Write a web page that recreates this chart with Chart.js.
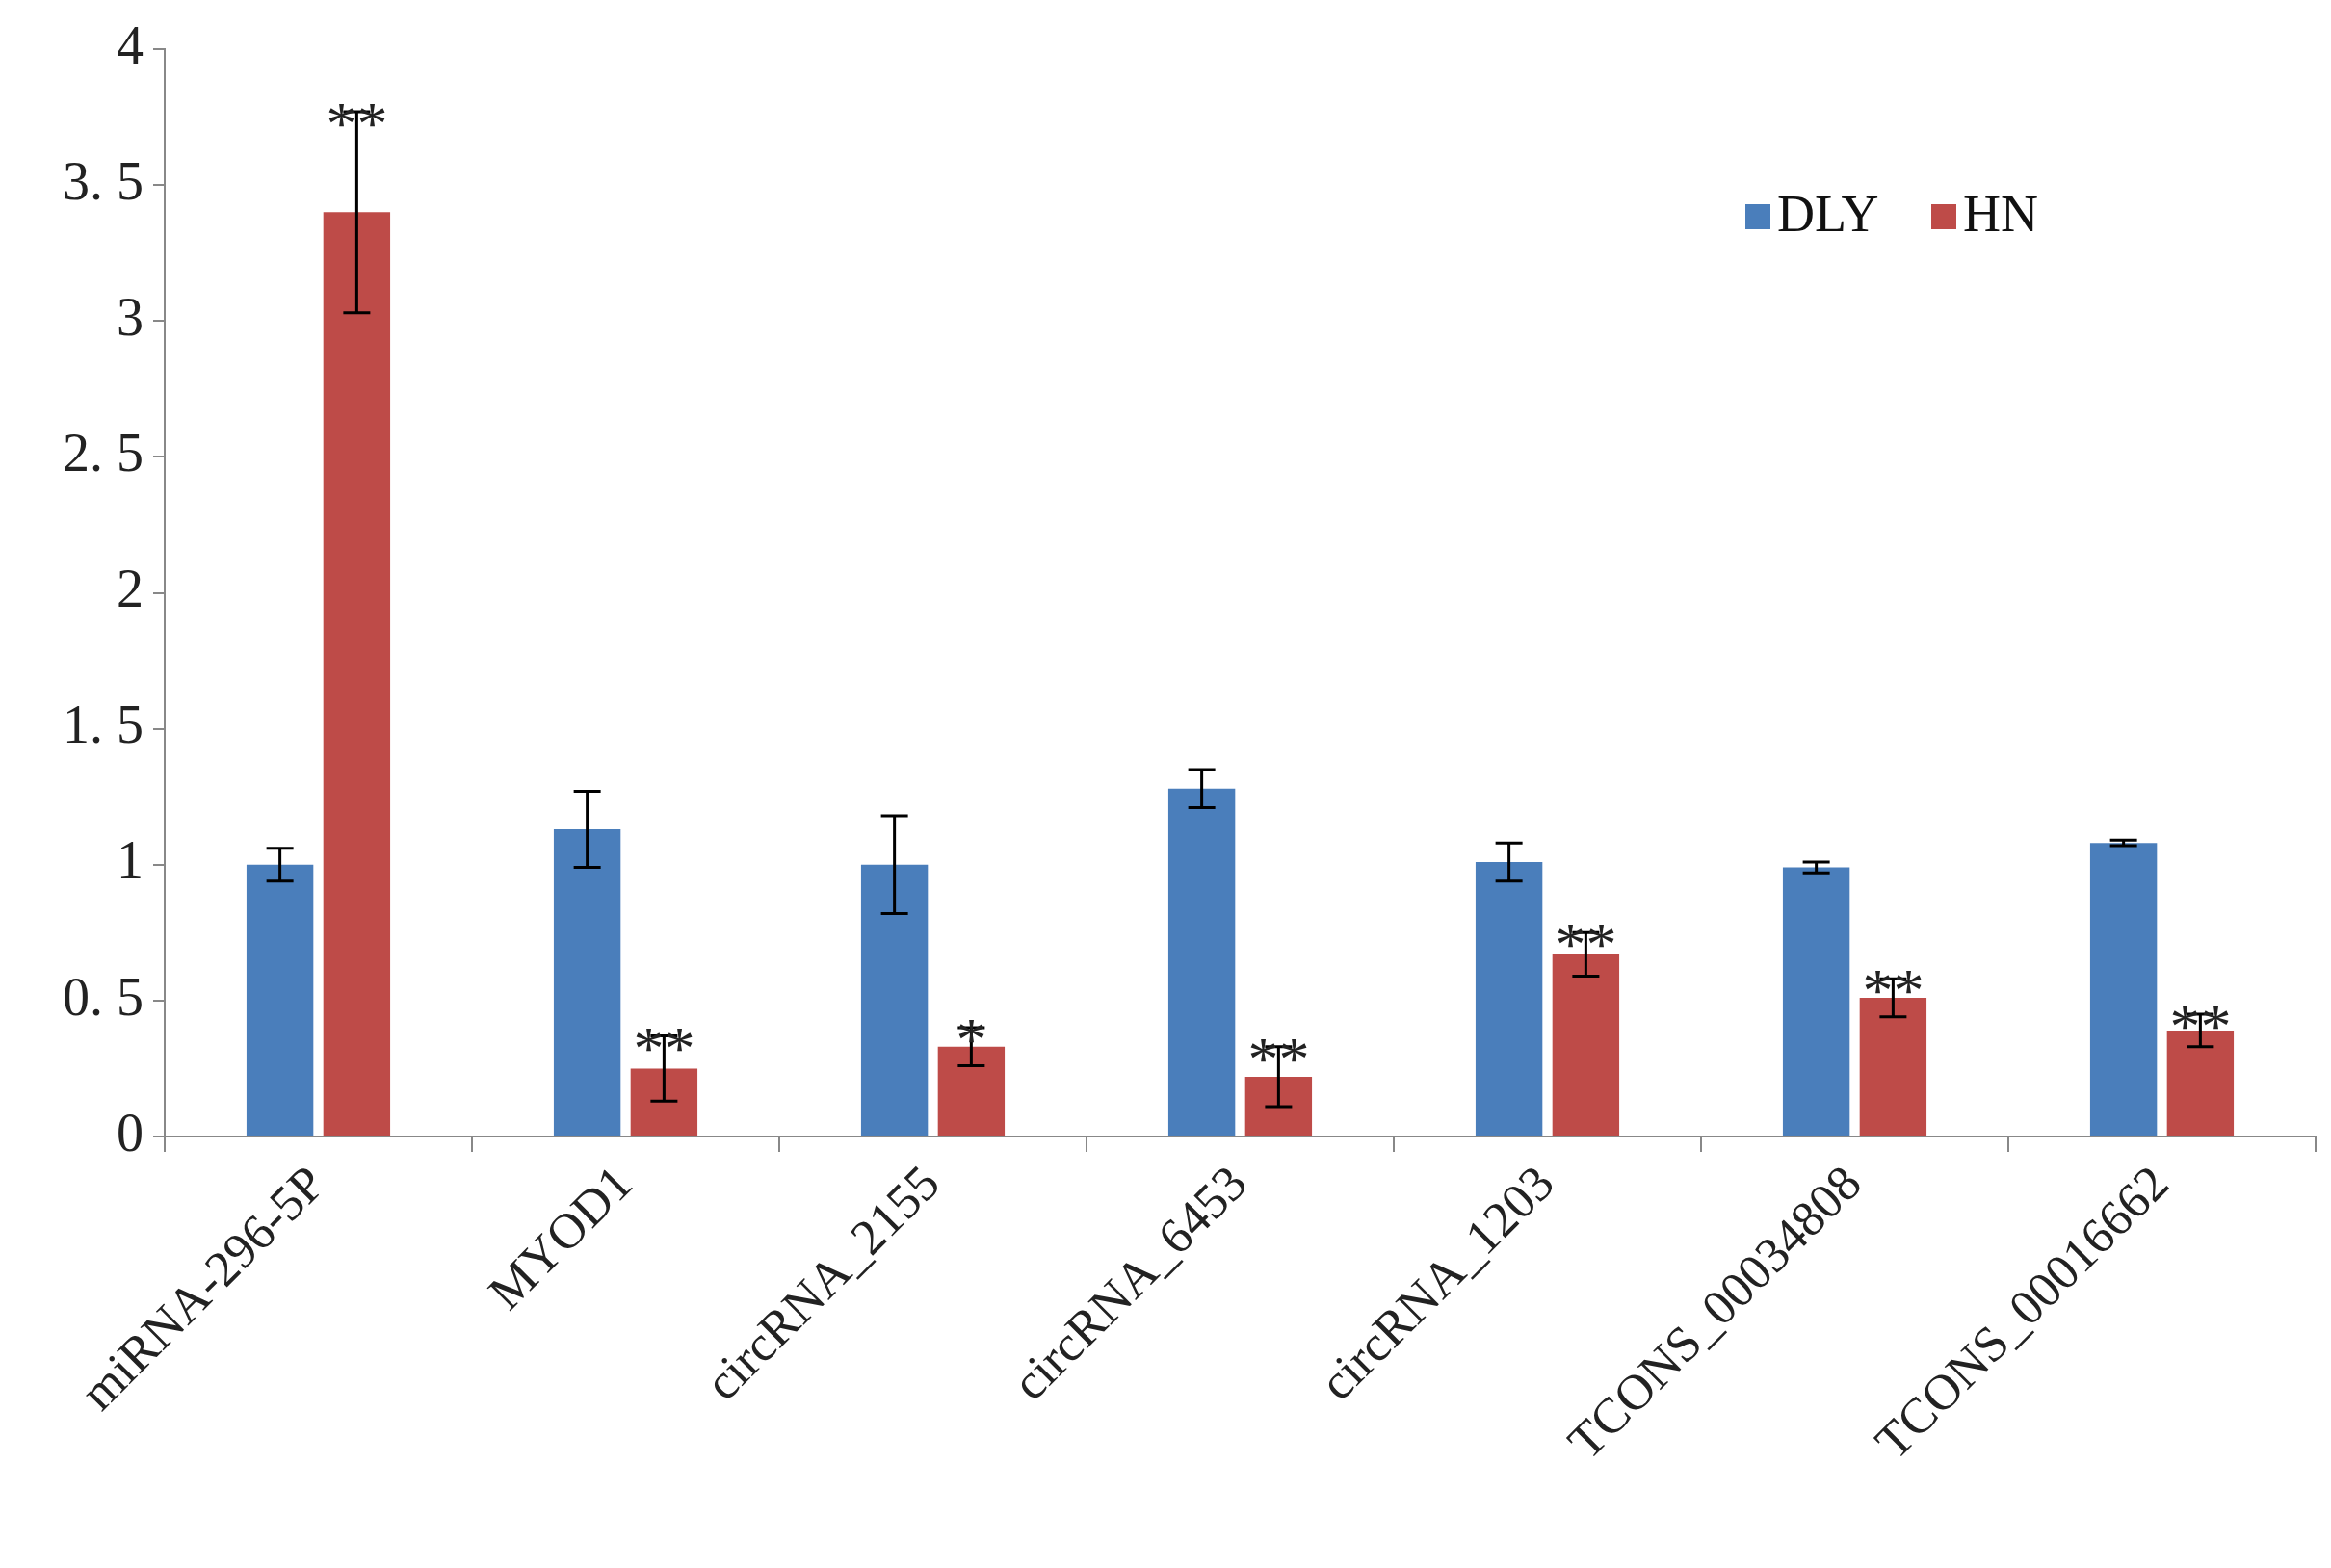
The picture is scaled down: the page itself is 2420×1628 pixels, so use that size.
<!DOCTYPE html>
<html><head><meta charset="utf-8">
<script src="https://cdn.jsdelivr.net/npm/chart.js@4/dist/chart.umd.min.js"></script>
<style>html,body{margin:0;background:#fff}</style></head>
<body><canvas id="c" width="2420" height="1628" style="width:2420px;height:1628px"></canvas>
<script>
const categories=["miRNA-296-5P","MYOD1","circRNA_2155","circRNA_6453","circRNA_1203","TCONS_00034808","TCONS_00016662"];
const dlyValues=[1.0,1.13,1.0,1.28,1.01,0.99,1.08];
const dlyErr=[0.06,0.14,0.18,0.07,0.07,0.02,0.01];
const hnValues=[3.4,0.25,0.33,0.22,0.67,0.51,0.39];
const hnErr=[0.37,0.12,0.07,0.11,0.08,0.07,0.06];
const hnSig=["**","**","*","**","**","**","**"];
const yTickLabels={0:"0",0.5:"0. 5",1:"1",1.5:"1. 5",2:"2",2.5:"2. 5",3:"3",3.5:"3. 5",4:"4"};
const FONT='"Liberation Serif","DejaVu Serif",serif';
const BLUE='#4a7ebb', RED='#be4b48';
const overlay={id:'overlay',afterDatasetsDraw(chart){
  const ctx=chart.ctx, y=chart.scales.y;
  const errs=[dlyErr,hnErr];
  ctx.save();ctx.strokeStyle='#000';ctx.lineWidth=3;
  chart.data.datasets.forEach((ds,di)=>{
    chart.getDatasetMeta(di).data.forEach((bar,i)=>{
      const v=ds.data[i],e=errs[di][i];
      const yt=y.getPixelForValue(v+e), yb=y.getPixelForValue(v-e), x=bar.x;
      ctx.beginPath();ctx.moveTo(x,yt);ctx.lineTo(x,yb);
      ctx.moveTo(x-14,yt);ctx.lineTo(x+14,yt);ctx.moveTo(x-14,yb);ctx.lineTo(x+14,yb);ctx.stroke();
      if(di===1){ctx.fillStyle='#222';ctx.font='64px '+FONT;ctx.textAlign='center';ctx.textBaseline='alphabetic';
        ctx.fillText(hnSig[i],x,yt-2+ (hnSig[i]==='*'?0:0)+36);}
    });
  });
  // legend
  ctx.font='54px '+FONT;ctx.textBaseline='middle';ctx.textAlign='left';
  ctx.fillStyle=BLUE;ctx.fillRect(1812,212,26,26);ctx.fillStyle='#111';ctx.fillText('DLY',1845,226);
  ctx.fillStyle=RED;ctx.fillRect(2005,212,26,26);ctx.fillStyle='#111';ctx.fillText('HN',2038,226);
  ctx.restore();
}};
new Chart(document.getElementById('c'),{type:'bar',
 data:{labels:categories,datasets:[
  {label:'DLY',data:dlyValues,backgroundColor:BLUE,categoryPercentage:0.5,barPercentage:0.87},
  {label:'HN',data:hnValues,backgroundColor:RED,categoryPercentage:0.5,barPercentage:0.87}]},
 options:{responsive:false,animation:false,devicePixelRatio:1,
  layout:{padding:{top:51,right:16,left:0,bottom:0}},
  plugins:{legend:{display:false},tooltip:{enabled:false}},
  scales:{
   x:{grid:{display:true,drawOnChartArea:false,offset:true,tickLength:16,color:'#888',lineWidth:2},
      border:{color:'#888',width:2},
      ticks:{color:'#222',font:{family:FONT,size:52},maxRotation:45,minRotation:45,padding:4},
      afterFit(s){s.height=448;}},
   y:{min:0,max:4,grid:{display:true,drawOnChartArea:false,tickLength:12,color:'#888',lineWidth:2},
      border:{color:'#888',width:2},
      ticks:{stepSize:0.5,color:'#222',font:{family:FONT,size:56},padding:10,callback:v=>yTickLabels[v]},
      afterFit(s){s.width=171;}}
  }},plugins:[overlay]});
</script></body></html>
